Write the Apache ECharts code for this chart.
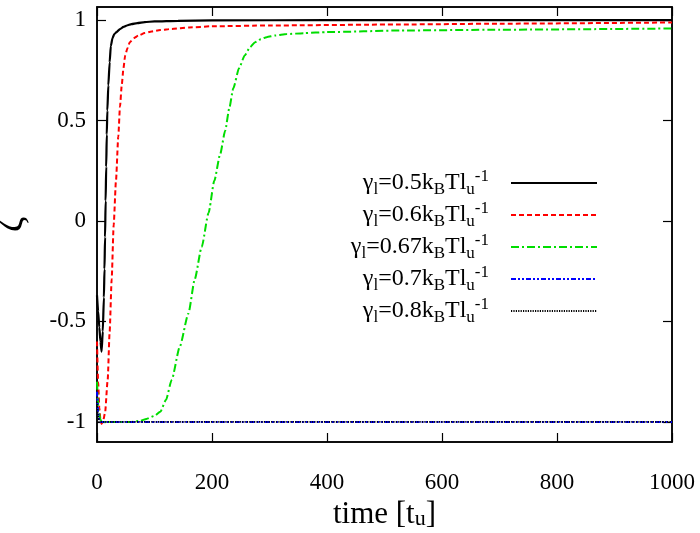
<!DOCTYPE html>
<html>
<head>
<meta charset="utf-8">
<script src="https://cdn.jsdelivr.net/npm/echarts@6/dist/echarts.min.js"></script>
<style>html,body{margin:0;padding:0;background:#fff}#c{width:700px;height:533px}</style>
</head>
<body>
<div id="c"></div>
<script>
// ---- data ----
var xTicks = [0, 200, 400, 600, 800, 1000];
var yTicks = [-1, -0.5, 0, 0.5, 1];

var seriesNames = ['0.5', '0.6', '0.67', '0.7', '0.8'];

var t05 = [0, 2, 4, 6, 8, 10, 12, 13, 14, 15, 16, 17, 18, 19.7, 22, 24, 27, 30, 34, 40, 46, 52, 60, 70, 83, 100, 141, 200, 400, 1000];
var z05 = [-0.37, -0.45, -0.53, -0.6, -0.65, -0.55, -0.38, -0.24, -0.08, 0.1, 0.27, 0.43, 0.55, 0.675, 0.79, 0.87, 0.91, 0.93, 0.94, 0.955, 0.966, 0.973, 0.98, 0.985, 0.99, 0.993, 0.996, 0.998, 1.0, 1.0];

var t06 = [0, 2, 4, 6, 8, 11, 14, 18.6, 22, 25.5, 29, 33, 37, 40, 43, 46, 49, 53, 57, 64, 72, 83, 95, 110, 130, 160, 200, 300, 527, 700, 1000];
var z06 = [-0.6, -0.8, -0.93, -0.99, -1.01, -0.99, -0.955, -0.79, -0.55, -0.29, -0.02, 0.2, 0.42, 0.57, 0.675, 0.76, 0.824, 0.86, 0.89, 0.91, 0.923, 0.935, 0.943, 0.95, 0.956, 0.963, 0.969, 0.973, 0.978, 0.982, 0.988];

var t067 = [0, 3, 6, 10, 20, 40, 60, 75, 86, 100, 110, 120, 130, 144, 159, 170, 182, 194, 204, 214, 223, 230, 237, 247, 257, 266, 275, 285, 295, 310, 330, 360, 400, 527, 700, 1000];
var z067 = [-0.8, -0.95, -0.99, -1.0, -1.0, -1.0, -1.0, -0.995, -0.985, -0.97, -0.95, -0.89, -0.79, -0.625, -0.46, -0.29, -0.13, 0.04, 0.2, 0.33, 0.45, 0.56, 0.66, 0.76, 0.824, 0.865, 0.89, 0.905, 0.915, 0.923, 0.93, 0.935, 0.94, 0.948, 0.952, 0.958];

var t07 = [0, 2, 4, 6, 10, 100, 500, 1000];
var z07 = [-0.85, -0.95, -0.99, -1.0, -1.0, -1.0, -1.0, -1.0];

var t08 = [0, 2, 4, 6, 10, 100, 500, 1000];
var z08 = [-0.9, -0.97, -1.0, -1.0, -1.0, -1.0, -1.0, -1.0];

// ---- build ----
function pairs(t, z) { return t.map(function (v, i) { return [v, z[i]]; }); }
var allT = [t05, t06, t067, t07, t08];
var allZ = [z05, z06, z067, z07, z08];
var colors = ['#000000', '#ff0000', '#00dd00', '#0000ff', '#000000'];
var dashes = ['solid', [5, 3], [8, 3, 2, 3], [5, 2, 2, 2, 2, 2], [1.2, 1.2]];
var widths = [2.2, 2, 2, 2, 1.6];

var FONT = '"Liberation Serif", "DejaVu Serif", serif';

var series = seriesNames.map(function (n, i) {
  return {
    name: n,
    type: 'line',
    data: pairs(allT[i], allZ[i]),
    symbol: 'none',
    showSymbol: false,
    smooth: 0.2,
    smoothMonotone: 'x',
    color: colors[i],
    lineStyle: { color: colors[i], width: widths[i], type: dashes[i] },
    z: 2 + i
  };
});

var chart = echarts.init(document.getElementById('c'), null, { renderer: 'canvas' });
chart.setOption({
  backgroundColor: '#ffffff',
  animation: false,
  grid: { left: 97, right: 28, top: 7, bottom: 91, show: true, borderColor: '#000', borderWidth: 1.5, backgroundColor: 'transparent', outerBoundsMode: 'none', containLabel: false },
  legend: {
    orient: 'vertical',
    align: 'right',
    right: 102,
    top: 168,
    padding: 0,
    itemGap: 2,
    itemWidth: 86,
    itemHeight: 14,
    itemStyle: { opacity: 0 },
    data: seriesNames,
    formatter: function (n) {
      return '{a|\u03b3}{s|l}{a|=' + n + 'k}{s|B}{a|Tl}{s|u}{p|-1}{g| }';
    },
    textStyle: {
      fontFamily: FONT,
      color: '#000',
      rich: {
        a: { fontFamily: FONT, fontSize: 24, lineHeight: 30, color: '#000' },
        s: { fontFamily: FONT, fontSize: 17, lineHeight: 12, verticalAlign: 'bottom', color: '#000' },
        p: { fontFamily: FONT, fontSize: 17, lineHeight: 12, verticalAlign: 'top', color: '#000' },
        g: { fontSize: 10, width: 17 }
      }
    }
  },
  xAxis: [{
    type: 'value', min: 0, max: 1000, interval: 200,
    name: 'time [t{s|u}]',
    nameLocation: 'middle', nameGap: 45,
    nameTextStyle: { fontFamily: FONT, fontSize: 31, color: '#000',
      rich: { s: { fontFamily: FONT, fontSize: 22, verticalAlign: 'bottom', lineHeight: 14, color: '#000' } } },
    axisLine: { show: true, onZero: false, lineStyle: { color: '#000', width: 1.5 } },
    axisTick: { show: true, inside: true, length: 9, lineStyle: { color: '#000', width: 1.2 } },
    axisLabel: { fontFamily: FONT, fontSize: 23, color: '#000', margin: 29, formatter: function (v) { return String(v); } },
    splitLine: { show: false }
  }, {
    type: 'value', min: 0, max: 1000, interval: 200, position: 'top',
    axisLine: { show: true, onZero: false, lineStyle: { color: '#000', width: 1.5 } },
    axisTick: { show: true, inside: true, length: 9, lineStyle: { color: '#000', width: 1.2 } },
    axisLabel: { show: false }, splitLine: { show: false }
  }],
  yAxis: [{
    type: 'value', min: -1.1, max: 1.065,
    name: '\u03b6', nameLocation: 'middle', nameGap: 66, nameRotate: 90,
    nameTextStyle: { fontFamily: FONT, fontSize: 38, color: '#000' },
    axisLine: { show: true, onZero: false, lineStyle: { color: '#000', width: 1.5 } },
    axisTick: { show: true, inside: true, length: 9, customValues: yTicks, lineStyle: { color: '#000', width: 1.2 } },
    axisLabel: { fontFamily: FONT, fontSize: 23, color: '#000', margin: 11, customValues: yTicks },
    splitLine: { show: false }
  }, {
    type: 'value', min: -1.1, max: 1.065, position: 'right',
    axisLine: { show: true, onZero: false, lineStyle: { color: '#000', width: 1.5 } },
    axisTick: { show: true, inside: true, length: 9, customValues: yTicks, lineStyle: { color: '#000', width: 1.2 } },
    axisLabel: { show: false }, splitLine: { show: false }
  }],
  series: series
});
</script>
</body>
</html>
